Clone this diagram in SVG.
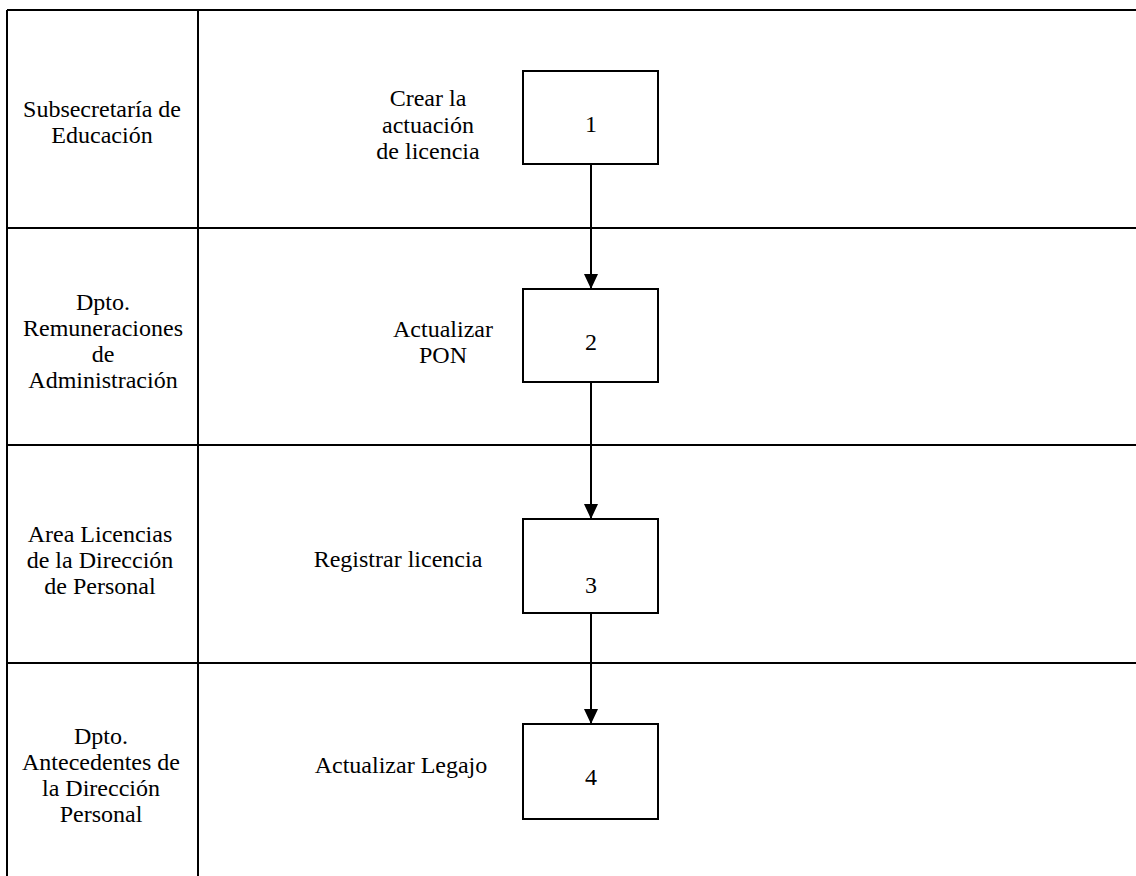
<svg xmlns="http://www.w3.org/2000/svg" width="1136" height="876" viewBox="0 0 1136 876">
<defs>
<style>
.ln{stroke:#000;stroke-width:2;fill:none}
.box{fill:#fff;stroke:#000;stroke-width:2}
.cn{stroke:#000;stroke-width:2;fill:none}
</style>
<marker id="ah" markerWidth="15" markerHeight="14" refX="15" refY="7" orient="auto" markerUnits="userSpaceOnUse" viewBox="0 0 15 14">
<path d="M0,0 L15,7 L0,14 Z" fill="#000"/>
</marker>
</defs>
<rect width="1136" height="876" fill="#fff"/>
<g id="lanes">
<line class="ln" x1="7" y1="10" x2="1136" y2="10"/>
<line class="ln" x1="7" y1="10" x2="7" y2="876"/>
<line class="ln" x1="198" y1="10" x2="198" y2="876"/>
<line class="ln" x1="7" y1="228" x2="1136" y2="228"/>
<line class="ln" x1="7" y1="445" x2="1136" y2="445"/>
<line class="ln" x1="7" y1="663" x2="1136" y2="663"/>
</g>
<g font-family="'Liberation Serif', 'DejaVu Serif', serif" font-size="24" fill="#000" text-anchor="middle">
<g id="lane-labels">
<text x="102" y="117">Subsecretaría de</text>
<text x="102" y="143">Educación</text>
<text x="103" y="310">Dpto.</text>
<text x="103" y="336">Remuneraciones</text>
<text x="103" y="362">de</text>
<text x="103" y="388">Administración</text>
<text x="100" y="542">Area Licencias</text>
<text x="100" y="568">de la Dirección</text>
<text x="100" y="594">de Personal</text>
<text x="101" y="744">Dpto.</text>
<text x="101" y="770">Antecedentes de</text>
<text x="101" y="796">la Dirección</text>
<text x="101" y="822">Personal</text>
</g>
<g id="connectors">
<line class="cn" x1="591" y1="164" x2="591" y2="289" marker-end="url(#ah)"/>
<line class="cn" x1="591" y1="382" x2="591" y2="519" marker-end="url(#ah)"/>
<line class="cn" x1="591" y1="613" x2="591" y2="724" marker-end="url(#ah)"/>
</g>
<g id="node1">
<text x="428" y="106">Crear la</text>
<text x="428" y="133">actuación</text>
<text x="428" y="159">de licencia</text>
<rect class="box" x="523" y="71" width="135" height="93"/>
<text x="591" y="132">1</text>
</g>
<g id="node2">
<text x="443" y="337">Actualizar</text>
<text x="443" y="363">PON</text>
<rect class="box" x="523" y="289" width="135" height="93"/>
<text x="591" y="350">2</text>
</g>
<g id="node3">
<text x="398" y="567">Registrar licencia</text>
<rect class="box" x="523" y="519" width="135" height="94"/>
<text x="591" y="593">3</text>
</g>
<g id="node4">
<text x="401" y="773">Actualizar Legajo</text>
<rect class="box" x="523" y="724" width="135" height="95"/>
<text x="591" y="785">4</text>
</g>
</g>
</svg>
